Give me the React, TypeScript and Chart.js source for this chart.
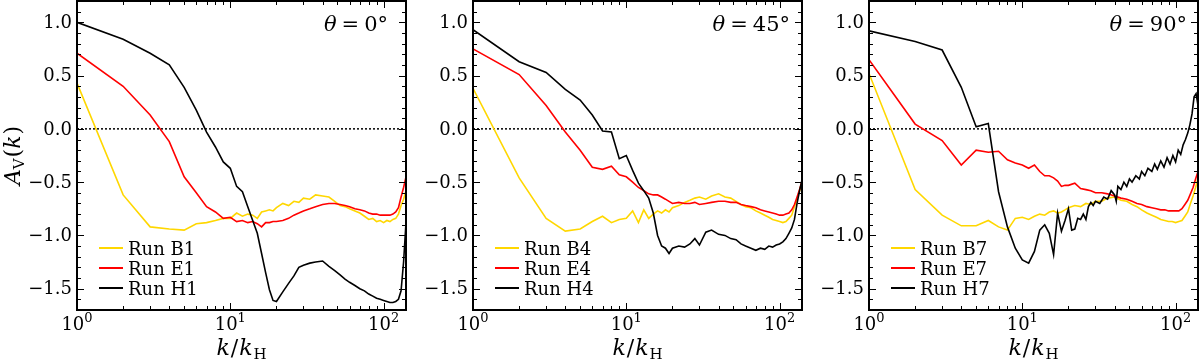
import React, { useEffect, useRef } from "react";
import { Chart, registerables } from "chart.js";

Chart.register(...registerables);

// ---------------- data ----------------
const K = [1, 2, 3, 4, 5, 6, 7, 8, 9, 10, 11, 12, 13, 14, 15, 16, 17, 18, 19, 20, 22, 24, 26, 28, 30, 33, 36, 40, 44, 48, 52, 56, 60, 65, 70, 75, 80, 85, 90, 95, 100, 105, 110, 115, 120, 125, 130, 135, 140];

const B1 = [0.43, -0.62, -0.92, -0.94, -0.95, -0.89, -0.88, -0.86, -0.84, -0.84,
  -0.79, -0.82, -0.80, -0.81, -0.84, -0.78, -0.77, -0.76, -0.77, -0.74,
  -0.70, -0.72, -0.68, -0.69, -0.65,
  -0.66, -0.62, -0.63, -0.64, -0.68, -0.72, -0.73, -0.75,
  -0.77, -0.79, -0.82, -0.85, -0.84, -0.87, -0.86, -0.88,
  -0.86, -0.87, -0.85, -0.84, -0.80, -0.72, -0.66, -0.58];
const E1 = [0.71, 0.40, 0.13, -0.12, -0.45, -0.60, -0.73, -0.78, -0.84, -0.83,
  -0.87, -0.86, -0.88, -0.87, -0.89, -0.92, -0.88, -0.88, -0.87, -0.87,
  -0.86, -0.84, -0.81, -0.79, -0.77,
  -0.75, -0.73, -0.71, -0.70, -0.70, -0.71, -0.72, -0.73,
  -0.75, -0.76, -0.77, -0.79, -0.80, -0.80, -0.81, -0.81,
  -0.81, -0.81, -0.80, -0.78, -0.74, -0.64, -0.55, -0.45];
const H1 = [1.00, 0.84, 0.71, 0.60, 0.39, 0.175, -0.03, -0.17, -0.31, -0.37,
  -0.54, -0.59, -0.73, -0.86, -0.98, -1.17, -1.35, -1.51, -1.61, -1.62,
  -1.53, -1.45, -1.38, -1.30, -1.28,
  -1.26, -1.25, -1.24, -1.29, -1.33, -1.37, -1.41, -1.44,
  -1.47, -1.50, -1.52, -1.55, -1.57, -1.59, -1.60, -1.61,
  -1.62, -1.63, -1.63, -1.62, -1.60, -1.52, -1.25, -0.88];

const B4 = [0.38, -0.46, -0.84, -0.96, -0.94, -0.87, -0.82, -0.88, -0.85, -0.84,
  -0.77, -0.88, -0.76, -0.84, -0.80, -0.77, -0.79, -0.76, -0.78, -0.74,
  -0.72, -0.69, -0.67, -0.65, -0.64,
  -0.66, -0.63, -0.61, -0.64, -0.65, -0.68, -0.71, -0.73,
  -0.74, -0.77, -0.79, -0.81, -0.83, -0.85, -0.86, -0.87,
  -0.88, -0.87, -0.84, -0.81, -0.73, -0.66, -0.58, -0.50];
const E4 = [0.75, 0.51, 0.22, -0.03, -0.20, -0.36, -0.38, -0.35, -0.43, -0.45,
  -0.50, -0.55, -0.58, -0.61, -0.62, -0.62, -0.64, -0.66, -0.68, -0.70,
  -0.69, -0.70, -0.70, -0.69, -0.71,
  -0.70, -0.69, -0.68, -0.68, -0.69, -0.69, -0.71, -0.72,
  -0.73, -0.74, -0.76, -0.77, -0.78, -0.79, -0.80, -0.81,
  -0.81, -0.80, -0.79, -0.76, -0.71, -0.64, -0.57, -0.49];
const H4 = [0.93, 0.63, 0.53, 0.37, 0.27, 0.13, -0.02, -0.03, -0.28, -0.25,
  -0.39, -0.51, -0.58, -0.65, -0.79, -1.00, -1.10, -1.12, -1.17, -1.12,
  -1.10, -1.11, -1.08, -1.03, -1.09,
  -0.97, -0.95, -0.99, -1.00, -1.03, -1.04, -1.08, -1.10,
  -1.12, -1.14, -1.12, -1.13, -1.10, -1.11, -1.09, -1.08,
  -1.06, -1.03, -0.98, -0.93, -0.85, -0.70, -0.58, -0.48];

const B7 = [0.52, -0.57, -0.81, -0.91, -0.91, -0.86, -0.92, -0.95, -0.84, -0.83,
  -0.85, -0.82, -0.80, -0.81, -0.78, -0.77, -0.79, -0.78, -0.76, -0.74,
  -0.72, -0.73, -0.70, -0.71, -0.68,
  -0.68, -0.65, -0.64, -0.67, -0.68, -0.71, -0.73, -0.76,
  -0.79, -0.81, -0.83, -0.85, -0.86, -0.87, -0.87, -0.88,
  -0.87, -0.86, -0.82, -0.78, -0.70, -0.63, -0.55, -0.46];
const E7 = [0.65, 0.045, -0.11, -0.34, -0.20, -0.22, -0.21, -0.29, -0.32, -0.34,
  -0.37, -0.34, -0.40, -0.44, -0.44, -0.46, -0.49, -0.54, -0.53, -0.53,
  -0.51, -0.56, -0.57, -0.58, -0.60,
  -0.60, -0.61, -0.63, -0.65, -0.66, -0.68, -0.70, -0.71,
  -0.73, -0.74, -0.75, -0.76, -0.76, -0.77, -0.77, -0.77,
  -0.77, -0.75, -0.71, -0.67, -0.61, -0.55, -0.47, -0.40];

const K_H7 = [1, 2, 3, 4, 5, 6, 7, 8, 9, 10, 11, 12, 13, 14, 15, 16, 17, 18, 19, 20,
  21, 22, 23, 24, 25, 26, 27, 28, 29, 30, 32, 34, 36, 38, 40, 41, 42, 44, 46, 48, 50, 52,
  55, 58, 60, 63, 66, 70, 73, 76, 80, 84, 88, 92, 96, 100, 104, 108, 112, 116, 120, 124, 128, 132, 136, 140];
const H7 = [0.92, 0.82, 0.74, 0.39, 0.02, 0.05, -0.59, -0.92, -1.12, -1.23,
  -1.26, -1.15, -0.95, -0.90, -0.98, -1.18, -0.79, -0.96, -0.86, -0.75,
  -0.95, -0.94, -0.84, -0.85, -0.80, -0.85, -0.73, -0.69, -0.72, -0.68,
  -0.70, -0.64, -0.66, -0.58, -0.62, -0.68, -0.54, -0.57, -0.50, -0.54, -0.47, -0.50,
  -0.44, -0.47, -0.40, -0.44, -0.37, -0.40, -0.33, -0.38, -0.30, -0.36, -0.27, -0.33,
  -0.25, -0.31, -0.20, -0.24, -0.15, -0.10, -0.04, 0.04, 0.14, 0.30, 0.33, 0.22];

// axis ticks
const X_MAJOR = [1, 10, 100];
const X_EXP = ["0", "1", "2"];
const X_MINOR = [2, 3, 4, 5, 6, 7, 8, 9, 20, 30, 40, 50, 60, 70, 80, 90];
const Y_MAJOR = [-1.5, -1.0, -0.5, 0.0, 0.5, 1.0];
const Y_LABELS = ["\u22121.5", "\u22121.0", "\u22120.5", "0.0", "0.5", "1.0"];
const Y_MINOR_TENTHS = [-17, -16, -14, -13, -12, -11, -9, -8, -7, -6, -4, -3, -2, -1, 1, 2, 3, 4, 6, 7, 8, 9, 11, 12];

const ANGLES = ["0", "45", "90"];
const RUN_NAMES = [["Run B1", "Run E1", "Run H1"], ["Run B4", "Run E4", "Run H4"], ["Run B7", "Run E7", "Run H7"]];

const YELLOW = "#FFD700";
const RED = "#FF0000";
const BLACK = "#000000";
const SERIF = "\"DejaVu Serif\"";

type Panel = {
  left: number; width: number; padL: number; padR: number;
  series: [number[], number[], string][]; angle: string; names: string[]; yTitle: boolean; titleRight: number;
};

const PANELS: Panel[] = [
  { left: 0, width: 410, padL: 77, padR: 4, series: [[K, B1, YELLOW], [K, E1, RED], [K, H1, BLACK]], angle: ANGLES[0], names: RUN_NAMES[0], yTitle: true, titleRight: 18 },
  { left: 410, width: 396, padL: 63, padR: 4, series: [[K, B4, YELLOW], [K, E4, RED], [K, H4, BLACK]], angle: ANGLES[1], names: RUN_NAMES[1], yTitle: false, titleRight: 12 },
  { left: 806, width: 394, padL: 63, padR: 2, series: [[K, B7, YELLOW], [K, E7, RED], [K_H7, H7, BLACK]], angle: ANGLES[2], names: RUN_NAMES[2], yTitle: false, titleRight: 11 },
];

const H = 363;

type Run = { t: string; font: string; dy?: number; gap?: number };

function runsWidth(ctx: CanvasRenderingContext2D, runs: Run[]) {
  let w = 0;
  for (const r of runs) { ctx.font = r.font; w += ctx.measureText(r.t).width + (r.gap || 0); }
  return w;
}
function drawRuns(ctx: CanvasRenderingContext2D, runs: Run[], cx: number, y: number) {
  let x = cx - runsWidth(ctx, runs) / 2;
  ctx.textAlign = "left";
  ctx.textBaseline = "alphabetic";
  for (const r of runs) {
    ctx.font = r.font;
    ctx.fillText(r.t, x, y + (r.dy || 0));
    x += ctx.measureText(r.t).width + (r.gap || 0);
  }
}

function makeDecor(p: Panel) {
  return {
    id: "decor",
    afterDatasetsDraw(chart: any) {
      const ctx: CanvasRenderingContext2D = chart.ctx;
      const a = chart.chartArea;
      const xs = chart.scales.x;
      const ys = chart.scales.y;
      ctx.save();
      ctx.fillStyle = "#000";
      ctx.strokeStyle = "#000";
      ctx.lineWidth = 1;
      const vtick = (v: number, len: number) => {
        const px = Math.round(xs.getPixelForValue(v)) + 0.5;
        ctx.beginPath();
        ctx.moveTo(px, a.bottom); ctx.lineTo(px, a.bottom - len);
        ctx.moveTo(px, a.top); ctx.lineTo(px, a.top + len);
        ctx.stroke();
      };
      const htick = (v: number, len: number) => {
        const py = Math.round(ys.getPixelForValue(v)) + 0.5;
        ctx.beginPath();
        ctx.moveTo(a.left, py); ctx.lineTo(a.left + len, py);
        ctx.moveTo(a.right, py); ctx.lineTo(a.right - len, py);
        ctx.stroke();
      };
      X_MAJOR.forEach((v) => vtick(v, 7));
      X_MINOR.forEach((v) => vtick(v, 4));
      Y_MAJOR.forEach((v) => htick(v, 7));
      Y_MINOR_TENTHS.forEach((v) => htick(v / 10, 4));
      ctx.lineWidth = 2;
      ctx.strokeRect(a.left, a.top, a.right - a.left, a.bottom - a.top);

      ctx.font = "18px " + SERIF;
      ctx.textAlign = "right";
      ctx.textBaseline = "middle";
      Y_MAJOR.forEach((v, i) => ctx.fillText(Y_LABELS[i], a.left - 5, ys.getPixelForValue(v) + 1));

      X_MAJOR.forEach((v, i) => {
        const px = xs.getPixelForValue(v);
        drawRuns(ctx, [
          { t: "10", font: "18px " + SERIF },
          { t: X_EXP[i], font: "13px " + SERIF, dy: -8 },
        ], px, 330);
      });

      const it = "italic 22px " + SERIF;
      const rm = "22px " + SERIF;
      drawRuns(ctx, [
        { t: "k", font: it, gap: 1 },
        { t: "/", font: rm, gap: 1 },
        { t: "k", font: it, gap: 1 },
        { t: "H", font: "15px " + SERIF, dy: 4 },
      ], (a.left + a.right) / 2, 355);

      if (p.yTitle) {
        ctx.save();
        ctx.translate(14, (a.top + a.bottom) / 2);
        ctx.rotate(-Math.PI / 2);
        drawRuns(ctx, [
          { t: "A", font: it, gap: 0 },
          { t: "V", font: "15px " + SERIF, dy: 4, gap: 1 },
          { t: "(", font: rm, gap: 0 },
          { t: "k", font: it, gap: 1 },
          { t: ")", font: rm },
        ], 0, 6);
        ctx.restore();
      }

      const titleRuns: Run[] = [
        { t: "\u03B8", font: "italic 21px " + SERIF, gap: 5 },
        { t: "=", font: "21px " + SERIF, gap: 5 },
        { t: p.angle + "\u00B0", font: "21px " + SERIF },
      ];
      const tw = runsWidth(ctx, titleRuns);
      drawRuns(ctx, titleRuns, a.right - p.titleRight - tw / 2, 31);

      const lx0 = a.left + 22;
      const lx1 = a.left + 46;
      p.series.forEach((s, i) => {
        const y = 248 + i * 20;
        ctx.strokeStyle = s[2];
        ctx.lineWidth = 2;
        ctx.beginPath();
        ctx.moveTo(lx0, y); ctx.lineTo(lx1, y);
        ctx.stroke();
        ctx.fillStyle = "#000";
        ctx.font = "18px " + SERIF;
        ctx.textAlign = "left";
        ctx.textBaseline = "alphabetic";
        ctx.fillText(p.names[i], a.left + 51, y + 7);
      });
      ctx.restore();
    },
  };
}

function PanelChart({ p }: { p: Panel }) {
  const ref = useRef<HTMLCanvasElement | null>(null);
  useEffect(() => {
    let chart: Chart | null = null;
    let cancelled = false;
    const build = () => {
      if (cancelled || !ref.current) return;
      const order = [2, 1, 0];
      const datasets: any[] = p.series.map((s, i) => ({
        data: s[0].map((k, j) => ({ x: k, y: s[1][j] })),
        borderColor: s[2],
        borderWidth: 1.6,
        pointRadius: 0,
        fill: false,
        tension: 0,
        order: order[i],
      }));
      datasets.push({
        data: [{ x: 1, y: 0 }, { x: 140, y: 0 }],
        borderColor: "#000",
        borderWidth: 1.5,
        borderDash: [2, 2],
        pointRadius: 0,
        fill: false,
        order: 5,
      });
      chart = new Chart(ref.current, {
        type: "line",
        data: { datasets },
        options: {
          animation: false,
          responsive: false,
          devicePixelRatio: 1,
          parsing: false as any,
          layout: { padding: { left: p.padL, right: p.padR, top: 1, bottom: 53 } },
          scales: {
            x: { type: "logarithmic", min: 1, max: 140, display: false },
            y: { type: "linear", min: -1.7, max: 1.2, display: false },
          },
          plugins: { legend: { display: false }, tooltip: { enabled: false } },
          events: [],
        },
        plugins: [makeDecor(p)],
      });
    };
    const fontsApi: any = (document as any).fonts;
    if (fontsApi && fontsApi.load) {
      Promise.all([
        fontsApi.load("20px \"DejaVu Serif\""),
        fontsApi.load("italic 20px \"DejaVu Serif\""),
      ]).catch(() => null).then(build);
    } else {
      build();
    }
    return () => {
      cancelled = true;
      if (chart) chart.destroy();
    };
  }, [p]);
  return (
    <canvas
      ref={ref}
      width={p.width}
      height={H}
      style={{ position: "absolute", left: p.left, top: 0, width: p.width, height: H }}
    />
  );
}

export default function App() {
  return (
    <div style={{ position: "absolute", left: 0, top: 0, width: 1200, height: H, background: "#fff" }}>
      {PANELS.map((p, i) => (
        <PanelChart key={i} p={p} />
      ))}
    </div>
  );
}
